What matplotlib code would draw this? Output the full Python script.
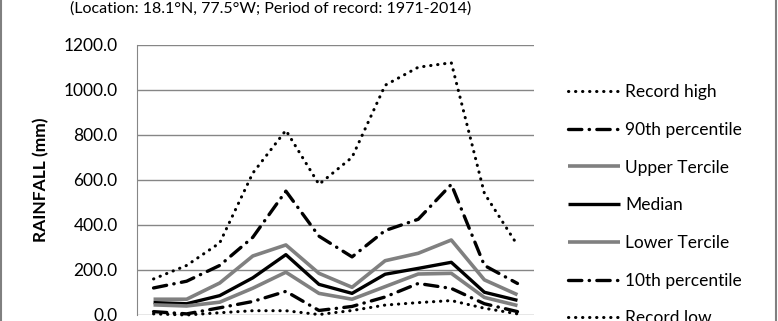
import matplotlib.pyplot as plt
from matplotlib.ticker import FormatStrFormatter

months = ['Jan', 'Feb', 'Mar', 'Apr', 'May', 'Jun', 'Jul', 'Aug', 'Sep', 'Oct', 'Nov', 'Dec']
record_high = [160, 220, 320, 630, 820, 580, 700, 1020, 1100, 1120, 540, 310]
p90 = [120, 150, 220, 345, 550, 350, 258, 375, 425, 580, 220, 140]
upper_tercile = [70, 70, 142, 262, 311, 185, 123, 241, 274, 333, 156, 90]
median = [55, 50, 86, 165, 268, 136, 96, 181, 207, 234, 101, 65]
lower_tercile = [45, 40, 57, 119, 190, 96, 70, 126, 182, 185, 78, 42]
p10 = [15, 5, 32, 60, 105, 20, 38, 80, 140, 118, 50, 15]
record_low = [5, 0, 10, 19, 19, 2, 20, 44, 55, 64, 30, 5]

plt.rcParams['font.family'] = ['Lato', 'DejaVu Sans']

fig = plt.figure(figsize=(7.78, 3.21), dpi=100)
ax = fig.add_axes([0.1761, 0.0187, 0.5103, 0.842])

x = range(len(months))
dot = (0, (0.1, 2.2))
dashdot = (0, (4, 2.2, 0.1, 2.2))
series = [
    ('Record high', record_high, 'black', dot, 2.2),
    ('90th percentile', p90, 'black', dashdot, 2.4),
    ('Upper Tercile', upper_tercile, '#808080', '-', 2.6),
    ('Median', median, 'black', '-', 2.4),
    ('Lower Tercile', lower_tercile, '#808080', '-', 2.6),
    ('10th percentile', p10, 'black', dashdot, 2.4),
    ('Record low', record_low, 'black', dot, 2.2),
]
for name, vals, col, ls, lw in series:
    ax.plot(x, vals, color=col, linestyle=ls, lw=lw, label=name,
            dash_capstyle='round', solid_capstyle='butt', clip_on=False, zorder=3)

ax.set_xlim(-0.5, 11.5)
ax.set_ylim(0, 1200)
ax.set_yticks(range(0, 1201, 200))
ax.yaxis.set_major_formatter(FormatStrFormatter('%.1f'))
ax.tick_params(axis='y', length=0, pad=14, labelsize=12.5)
ax.set_xticks([])
ax.grid(axis='y', color='#868686', lw=1)
ax.set_axisbelow(True)
for s in ['top', 'right', 'bottom']:
    ax.spines[s].set_visible(False)
ax.spines['left'].set_color('#868686')
ax.set_ylabel('RAINFALL (mm)', fontsize=12.5, fontweight='bold', labelpad=10)

ax.legend(loc='upper left', bbox_to_anchor=(0.730, 0.738), bbox_transform=fig.transFigure,
          frameon=False, fontsize=12.5, handlelength=3.0, handletextpad=0.3,
          labelspacing=1.25, borderaxespad=0, borderpad=0)

fig.text(0.09, 1 - 13 / 321, '(Location: 18.1\u00b0N, 77.5\u00b0W; Period of record: 1971-2014)',
         fontsize=11.5, va='baseline', ha='left')

# outer frame edges
fig.add_artist(plt.Line2D([0.001, 0.001], [0, 1], color='#808080', lw=1.5, transform=fig.transFigure))
fig.add_artist(plt.Line2D([0.9975, 0.9975], [0, 1], color='#808080', lw=1.5, transform=fig.transFigure))

fig.savefig('out.png', dpi=100)
